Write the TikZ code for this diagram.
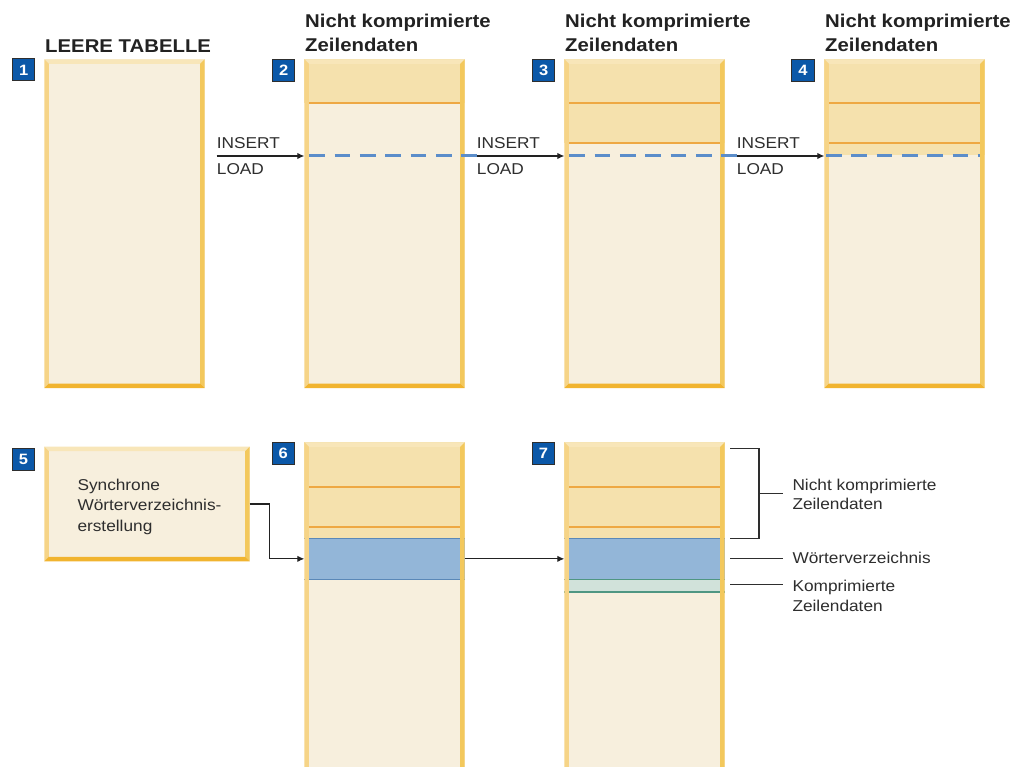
\documentclass[tikz,border=0pt]{standalone}
\usepackage{fontspec}
\setmainfont[FakeStretch=1.1]{Liberation Sans}
\usetikzlibrary{arrows.meta,calc}
\definecolor{cream}{HTML}{F7EFDD}
\definecolor{rowc}{HTML}{F5E1AD}
\definecolor{bleft}{HTML}{F6D487}
\definecolor{bright}{HTML}{F3C85C}
\definecolor{btop}{HTML}{F8E6B9}
\definecolor{bbot}{HTML}{F1B42F}
\definecolor{rowline}{HTML}{EEA843}
\definecolor{dictc}{HTML}{93B6D8}
\definecolor{dictl}{HTML}{5A88B8}
\definecolor{compc}{HTML}{D1E2DA}
\definecolor{compl}{HTML}{4F9682}
\definecolor{dashc}{HTML}{5B8DCA}
\definecolor{badgec}{HTML}{0B58A8}
\definecolor{ink}{HTML}{222222}
\definecolor{txt}{HTML}{2E2E2E}
\newcommand\bevelit[1]{%
  \fill[btop] (#1.north west) -- (#1.north east) -- ([shift={(-4.5,4.5)}]#1.north east) -- ([shift={(4.5,4.5)}]#1.north west) -- cycle;
  \fill[bleft] (#1.north west) -- ([shift={(4.5,4.5)}]#1.north west) -- ([shift={(4.5,-4.5)}]#1.south west) -- (#1.south west) -- cycle;
  \fill[bright] (#1.north east) -- ([shift={(-4.5,4.5)}]#1.north east) -- ([shift={(-4.5,-4.5)}]#1.south east) -- (#1.south east) -- cycle;
  \fill[bbot] (#1.south west) -- ([shift={(4.5,-4.5)}]#1.south west) -- ([shift={(-4.5,-4.5)}]#1.south east) -- (#1.south east) -- cycle;}
\newcommand\rowfill[2]{\fill[rowc] (#1.north west) rectangle ($(#1.north east)+(0,#2)$);}
\newcommand\rowsep[2]{\draw[rowline,line width=1.6pt] ($(#1.north west)+(4.5,#2)$) -- ($(#1.north east)+(-4.5,#2)$);}
\begin{document}
\begin{tikzpicture}[x=1pt,y=-1pt,
  tablebox/.style={rectangle,fill=cream,draw=none,inner sep=0pt,anchor=north west,minimum width=160pt},
  badge/.style={rectangle,fill=badgec,draw=txt,line width=0.8pt,minimum width=22.5pt,minimum height=22pt,inner sep=0pt,text=white,font=\fontsize{15}{15}\selectfont\bfseries},
  head/.style={anchor=base west,inner sep=0pt,text=ink,font=\fontsize{18.5}{24}\selectfont\bfseries},
  lbl/.style={anchor=base west,inner sep=0pt,text=txt,font=\fontsize{15.7}{20}\selectfont},
  arr/.style={draw=ink,line width=1.2pt,-{Latex[length=7pt,width=6.5pt]}},
  lead/.style={draw=txt,line width=1.2pt},
  dashline/.style={draw=dashc,line width=3pt,dash pattern=on 15.7pt off 9.6pt}]
\useasboundingbox (0,0) rectangle (1021,767);
\fill[white] (0,0) rectangle (1021,767);

% ---- top row tables
\node[tablebox,minimum height=328.4pt] (t1) at (44.3,59.3) {};
\bevelit{t1}
\node[tablebox,minimum height=328.4pt] (t2) at (304.3,59.3) {};
\rowfill{t2}{44}
\rowsep{t2}{44}
\bevelit{t2}
\node[tablebox,minimum height=328.4pt] (t3) at (564.3,59.3) {};
\rowfill{t3}{84}
\rowsep{t3}{44}\rowsep{t3}{84}
\bevelit{t3}
\node[tablebox,minimum height=328.4pt] (t4) at (824.3,59.3) {};
\rowfill{t4}{96}
\rowsep{t4}{44}\rowsep{t4}{84}
\bevelit{t4}

% headers
\node[head] (h1) at (45,52.7) {LEERE TABELLE};
\node[head] (h2a) at (305,27.7) {Nicht komprimierte};
\node[head] (h2b) at (305,51.7) {Zeilendaten};
\node[head] (h3a) at (565,27.7) {Nicht komprimierte};
\node[head] (h3b) at (565,51.7) {Zeilendaten};
\node[head] (h4a) at (825,27.7) {Nicht komprimierte};
\node[head] (h4b) at (825,51.7) {Zeilendaten};

% badges
\node[badge] (n1) at (23.6,69.9) {1};
\node[badge] (n2) at (283.6,70.5) {2};
\node[badge] (n3) at (543.6,70.5) {3};
\node[badge] (n4) at (803,70) {4};

% INSERT / LOAD arrows
\coordinate (a1) at (216.7,156);
\coordinate (a2) at (476.7,156);
\coordinate (a3) at (736.7,156);
\draw[dashline] (309.3,156) -- (a2);
\draw[dashline] (569.3,156) -- (a3);
\draw[dashline] (826,156) -- (980,156);
\draw[arr] (a1) -- (a1 -| t2.west);
\draw[arr] (a2) -- (a2 -| t3.west);
\draw[arr] (a3) -- (a3 -| t4.west);
\node[lbl] (i1) at (216.7,148.3) {INSERT};
\node[lbl] (l1) at (216.7,175) {LOAD};
\node[lbl] (i2) at (476.7,148.3) {INSERT};
\node[lbl] (l2) at (476.7,175) {LOAD};
\node[lbl] (i3) at (736.7,148.3) {INSERT};
\node[lbl] (l3) at (736.7,175) {LOAD};

% ---- bottom row
\node[tablebox,minimum width=205pt,minimum height=114.3pt] (b5) at (44.3,446.7) {};
\bevelit{b5}
\node[lbl] (s1) at (77.3,490) {Synchrone};
\node[lbl] (s2) at (77.3,510.8) {Wörterverzeichnis-};
\node[lbl] (s3) at (77.3,531) {erstellung};

\node[tablebox,minimum height=335pt] (t6) at (304.3,442.3) {};
\rowfill{t6}{96}
\rowsep{t6}{44.4}\rowsep{t6}{84.4}
\node[rectangle,fill=dictc,inner sep=0pt,anchor=north west,minimum width=160pt,minimum height=40.7pt] (d6) at ($(t6.north west)+(0,96)$) {};
\draw[dictl,line width=1.4pt] (d6.north west) -- (d6.north east) (d6.south west) -- (d6.south east);
\bevelit{t6}

\node[tablebox,minimum height=335pt] (t7) at (564.3,442.3) {};
\rowfill{t7}{96}
\rowsep{t7}{44.4}\rowsep{t7}{84.4}
\node[rectangle,fill=dictc,inner sep=0pt,anchor=north west,minimum width=160pt,minimum height=40.7pt] (d7) at ($(t7.north west)+(0,96)$) {};
\node[rectangle,fill=compc,inner sep=0pt,anchor=north west,minimum width=160pt,minimum height=12pt] (c7) at (d7.south west) {};
\draw[dictl,line width=1.4pt] (d7.north west) -- (d7.north east);
\draw[compl,line width=1.8pt] (d7.south west) -- (d7.south east) (c7.south west) -- (c7.south east);
\bevelit{t7}

\node[badge] (n5) at (23.5,459.5) {5};
\node[badge] (n6) at (283.3,453.3) {6};
\node[badge] (n7) at (543.5,453.3) {7};

\draw[arr] (b5.east) -- ++(20,0) |- (t6.west |- d6.west);
\draw[arr] (t6.east |- d6.east) -- (t7.west |- d7.west);

% right labels
\node[lbl] (r1a) at (792.3,490) {Nicht komprimierte};
\node[lbl] (r1b) at (792.3,509.3) {Zeilendaten};
\node[lbl] (r2) at (792.3,563.3) {Wörterverzeichnis};
\node[lbl] (r3a) at (792.3,591) {Komprimierte};
\node[lbl] (r3b) at (792.3,611.7) {Zeilendaten};
\coordinate (bt) at (730,448.3);
\coordinate (bb) at (730,538.3);
\draw[lead] (bt) -- (759,448.3) -- (759,538.3) -- (bb);
\draw[lead] (759,493.3) -- ($(r1a.base west)+(-9.6,3.3)$);
\draw[lead] (730,558.3) -- ($(r2.base west)+(-9.6,-5)$);
\draw[lead] (730,584.3) -- ($(r3a.base west)+(-9.6,-6.7)$);
\end{tikzpicture}
\end{document}
